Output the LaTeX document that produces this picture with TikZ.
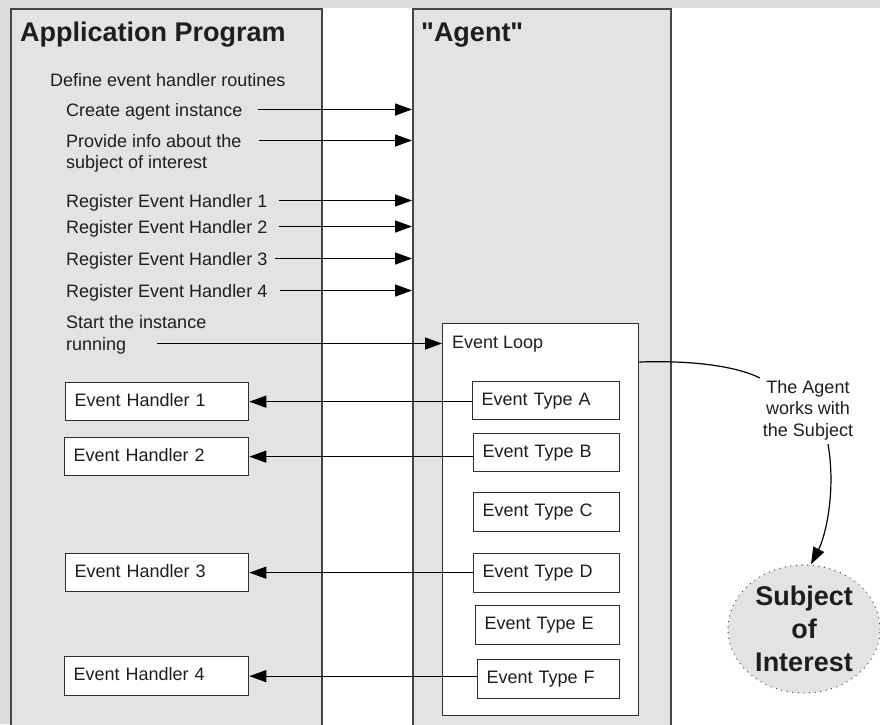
\documentclass[tikz,border=0pt]{standalone}
\usepackage{fontspec}
\setmainfont{Liberation Sans}[Ligatures=TeXOff]
\usetikzlibrary{arrows.meta,shapes.geometric,calc}

\definecolor{stripgray}{HTML}{DCDCDC}
\definecolor{panelgray}{HTML}{E3E3E3}
\definecolor{edgegray}{HTML}{454545}
\definecolor{boxedge}{HTML}{2E2E2E}
\definecolor{ink}{HTML}{1E1E1E}

\begin{document}
\begin{tikzpicture}[x=1pt,y=-1pt,
  panel/.style={draw=edgegray, line width=1.5pt, fill=panelgray, anchor=north west, inner sep=0pt},
  title/.style={font=\fontsize{27}{33}\selectfont\bfseries, text=ink, anchor=base west, inner sep=0pt},
  txt/.style={font=\fontsize{18}{21.5}\selectfont, text=ink, anchor=base west, inner sep=0pt,
    text height=13pt, text depth=0pt},
  evbox/.style={draw=boxedge, line width=1.3pt, fill=white, anchor=north west,
    inner xsep=9pt, inner ysep=0pt, align=left, font=\fontsize{18}{21.5}\selectfont,
    text=ink, text height=13pt, text depth=4pt},
  arr/.style={draw=black, line width=1.3pt, -{Triangle[length=17pt,width=12pt]}},
  link/.style={draw=black, line width=1.2pt},
]
\useasboundingbox (0,0) rectangle (880,724);
\clip (0,0) rectangle (880,724);

% page background and grey margins
\fill[white] (0,0) rectangle (880,724);
\fill[stripgray] (0,0) rectangle (880,8);
\fill[stripgray] (0,0) rectangle (10,724);

% the two swim lanes
\node[panel, minimum width=311pt, minimum height=730pt] (app) at (10,8) {};
\node[panel, minimum width=258pt, minimum height=730pt] (agent) at (412,8) {};

\node[title] (apptitle) at (20,41) {Application Program};
\node[title] (agenttitle) at (421,41) {"Agent"};

% steps taken by the application
\node[txt] (define) at (50,86) {Define event handler routines};
\node[txt] (create) at (66,116) {Create agent instance};
\node[txt] (prov1) at (66,147) {Provide info about the};
\node[txt] (prov2) at (66,168) {subject of interest};
\node[txt] (reg1) at (66,207) {Register Event Handler 1};
\node[txt] (reg2) at (66,233) {Register Event Handler 2};
\node[txt] (reg3) at (66,265) {Register Event Handler 3};
\node[txt] (reg4) at (66,297) {Register Event Handler 4};
\node[txt] (start1) at (66,328) {Start the instance};
\node[txt] (start2) at (66,350) {running};

% event loop inside the agent
\node[draw=boxedge, line width=1.3pt, fill=white, anchor=north west, inner sep=0pt,
      minimum width=196pt, minimum height=392pt] (loop) at (442,323) {};
\node[txt] (looplbl) at (452,348) {Event Loop};

\node[evbox, text width=129pt, minimum height=38pt] (etA) at (472,381) {Event Type A};
\node[evbox, text width=128pt, minimum height=38pt] (etB) at (473,433) {Event Type B};
\node[evbox, text width=128pt, minimum height=39pt] (etC) at (473,492) {Event Type C};
\node[evbox, text width=128pt, minimum height=39pt] (etD) at (473,553) {Event Type D};
\node[evbox, text width=126pt, minimum height=39pt] (etE) at (475,605) {Event Type E};
\node[evbox, text width=124pt, minimum height=39pt] (etF) at (477,659) {Event Type F};

% handlers on the application side
\node[evbox, text width=165pt, minimum height=38pt] (eh1) at (65,382) {Event Handler 1};
\node[evbox, text width=166pt, minimum height=38pt] (eh2) at (64,437) {Event Handler 2};
\node[evbox, text width=165pt, minimum height=38pt] (eh3) at (65,553) {Event Handler 3};
\node[evbox, text width=166pt, minimum height=39pt] (eh4) at (64,656) {Event Handler 4};

% calls into the agent
\draw[arr] ([xshift=15pt]create.east) -- (create.east -| agent.west);
\draw[arr] ([xshift=17pt]prov1.east) -- (prov1.east -| agent.west);
\draw[arr] ([xshift=11pt]reg1.east) -- (reg1.east -| agent.west);
\draw[arr] ([xshift=11pt]reg2.east) -- (reg2.east -| agent.west);
\draw[arr] ([xshift=7pt]reg3.east) -- (reg3.east -| agent.west);
\draw[arr] ([xshift=12pt]reg4.east) -- (reg4.east -| agent.west);
\draw[arr] ([xshift=31pt]start2.east) -- (start2.east -| loop.west);

% dispatch from event types to handlers
\draw[arr] (etA.west |- eh1.east) -- (eh1.east);
\draw[arr] (etB.west |- eh2.east) -- (eh2.east);
\draw[arr] (etD.west |- eh3.east) -- (eh3.east);
\draw[arr] (etF.west |- eh4.east) -- (eh4.east);

% the subject of interest
\node[font=\fontsize{18}{21.5}\selectfont, text=ink, align=center, inner sep=0pt]
  (note) at (808,410) {The Agent\\works with\\the Subject};
\node[ellipse, draw=edgegray, line width=1.3pt, dash pattern=on 0.1pt off 5.5pt, line cap=round,
      fill=panelgray, minimum width=152pt, minimum height=128pt, inner sep=0pt,
      font=\fontsize{27}{33}\selectfont\bfseries, text=ink, align=center]
  (subj) at (804,629) {Subject\\of\\Interest};

\draw[link] ($(loop.north east)+(0,39)$) .. controls (700,360) and (740,368)
  .. ($(note.north west)+(-3,-2)$);
\draw[arr, line width=1.2pt] ($(note.south)+(20,4)$) .. controls (836,490) and (826,535)
  .. ($(subj.north)+(7,0)$);
\end{tikzpicture}
\end{document}
